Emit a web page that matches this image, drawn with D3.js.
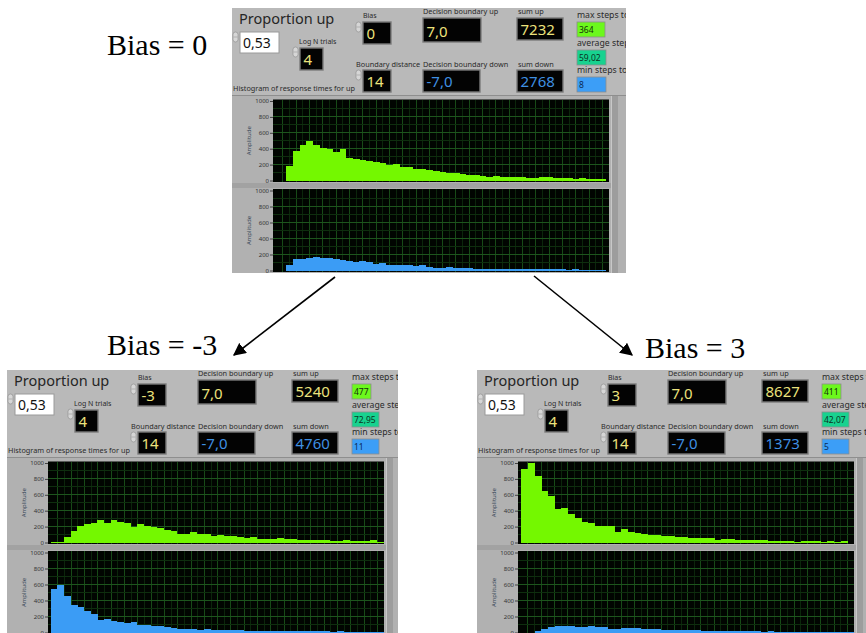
<!DOCTYPE html>
<html><head><meta charset="utf-8">
<script src="https://cdn.jsdelivr.net/npm/d3@7"></script>
<style>body{margin:0;background:#fff}svg{display:block}</style>
</head><body><svg id="c" width="866" height="633"></svg>
<script>
// ---------------- data ----------------
const binCount = 50;
const yTicks = [0, 200, 400, 600, 800, 1000];
const biasTitles = ["Bias = 0", "Bias = -3", "Bias = 3"];
const biasValues = ["0", "-3", "3"];
const proportionUp = ["0,53", "0,53", "0,53"];
const logNTrials = ["4", "4", "4"];
const boundaryDistance = ["14", "14", "14"];
const decisionUp = ["7,0", "7,0", "7,0"];
const decisionDown = ["-7,0", "-7,0", "-7,0"];
const sumUp = ["7232", "5240", "8627"];
const sumDown = ["2768", "4760", "1373"];
const maxSteps = ["364", "477", "411"];
const avgSteps = ["59,02", "72,95", "42,07"];
const minSteps = ["8", "11", "5"];

const upBias0 = [0, 0, 183, 369, 444, 494, 450, 415, 400, 355, 390, 282, 275, 260, 245, 230, 220, 200, 205, 170,
  175, 150, 140, 130, 115, 110, 100, 90, 80, 75, 65, 60, 50, 60, 50, 40, 45, 45, 35, 35,
  40, 50, 35, 30, 30, 25, 30, 20, 25, 20];
const downBias0 = [0, 0, 63, 150, 150, 160, 165, 160, 155, 150, 135, 115, 105, 125, 105, 85, 92, 75, 70, 65,
  63, 55, 75, 45, 35, 30, 45, 35, 30, 28, 25, 25, 20, 25, 20, 18, 22, 15, 20, 18,
  15, 18, 15, 15, 12, 15, 12, 10, 12, 8];
const upBiasM3 = [5, 10, 72, 145, 204, 234, 247, 281, 251, 281, 264, 247, 200, 230, 213, 191, 179, 162, 149, 111,
  111, 132, 102, 106, 85, 94, 85, 77, 64, 60, 68, 47, 47, 43, 51, 43, 38, 34, 34, 30,
  30, 26, 21, 21, 26, 17, 21, 17, 26, 8];
const downBiasM3 = [546, 597, 462, 349, 315, 265, 235, 160, 168, 143, 126, 118, 126, 97, 88, 84, 80, 67, 59, 50,
  46, 38, 34, 42, 34, 30, 28, 30, 26, 25, 22, 24, 20, 22, 18, 20, 16, 18, 15, 16,
  14, 15, 12, 13, 12, 11, 10, 12, 9, 6];
const upBias3 = [925, 1000, 842, 654, 583, 425, 437, 358, 312, 258, 242, 208, 212, 212, 137, 167, 133, 117, 104, 92,
  96, 83, 79, 71, 67, 62, 58, 58, 62, 37, 42, 50, 33, 29, 33, 29, 29, 25, 25, 21,
  21, 12, 21, 17, 17, 12, 17, 12, 17, 0];
const downBias3 = [0, 0, 21, 50, 63, 80, 80, 84, 67, 63, 76, 71, 67, 50, 50, 59, 59, 55, 46, 42,
  38, 34, 29, 34, 34, 34, 29, 21, 20, 18, 17, 15, 17, 14, 15, 13, 12, 14, 12, 11,
  12, 10, 9, 10, 8, 9, 7, 8, 6, 5];

const upSeries = [upBias0, upBiasM3, upBias3];
const downSeries = [downBias0, downBiasM3, downBias3];

// ---------------- layout ----------------
const panelLayout = [
  { x: 232, y: 8, w: 394, h: 265, xStart: 0, greenW: 28, otherW: 29 },
  { x: 7, y: 370, w: 391, h: 263, xStart: -0.4, greenW: 19, otherW: 27 },
  { x: 477, y: 370, w: 389, h: 263, xStart: -0.5, greenW: 19, otherW: 27 }
];
const titleLayout = [
  { x: 107, y: 55 }, { x: 107, y: 355 }, { x: 645, y: 358 }
];

const UI = "'Noto Sans', 'Open Sans', sans-serif";
const YELLOW = "#ece27c";
const BLUE_TXT = "#3f90e2";
const GREEN = "#74f800", BLUE = "#3b9cf5";

const svg = d3.select("#c");
const defs = svg.append("defs");
defs.append("marker").attr("id", "ah").attr("viewBox", "0 0 10 10")
  .attr("refX", 9).attr("refY", 5).attr("markerWidth", 8).attr("markerHeight", 8)
  .attr("orient", "auto").append("path").attr("d", "M0,0L10,5L0,10z").attr("fill", "#000");

function label(g, x, y, t, size, fill) {
  return g.append("text").attr("x", x).attr("y", y).text(t)
    .attr("font-family", UI).attr("font-size", size).attr("fill", fill || "#2a2a2a");
}
function spin(g, x, y) {
  g.append("rect").attr("x", x).attr("y", y).attr("width", 5).attr("height", 10).attr("rx", 2.5)
    .attr("fill", "#d6d6d6").attr("stroke", "#8a8a8a").attr("stroke-width", 0.6);
  g.append("line").attr("x1", x + 0.5).attr("x2", x + 4.5).attr("y1", y + 5).attr("y2", y + 5)
    .attr("stroke", "#8a8a8a").attr("stroke-width", 0.5);
}
function darkBox(g, x, y, w, h, t, color) {
  g.append("rect").attr("x", x).attr("y", y).attr("width", w).attr("height", h)
    .attr("fill", "#030303").attr("stroke", "#7b7b7b").attr("stroke-width", 1.4);
  g.append("text").attr("x", x + 3.5).attr("y", y + h - 5).text(t)
    .attr("font-family", UI).attr("font-size", 15).attr("fill", color);
}
function indicator(g, x, y, w, t, fill, tcol) {
  g.append("rect").attr("x", x).attr("y", y).attr("width", w).attr("height", 15)
    .attr("fill", fill).attr("stroke", "#8c8c8c").attr("stroke-width", 0.8);
  g.append("text").attr("x", x + 2).attr("y", y + 11).text(t)
    .attr("font-family", UI).attr("font-size", 8.5).attr("fill", tcol);
}

function drawPlot(g, cfg, values, yTop, yBottom, color) {
  const x = d3.scaleLinear().domain([cfg.xStart, cfg.xStart + binCount + 0.5]).range([41, 377]);
  const y = d3.scaleLinear().domain([0, 1000]).range([yBottom, yTop]);
  g.append("rect").attr("x", 41).attr("y", yTop - 1.5).attr("width", 336).attr("height", yBottom - yTop + 3)
    .attr("fill", "#010501");
  const grid = g.append("g").attr("shape-rendering", "crispEdges");
  d3.range(0, binCount + 1).forEach(j => {
    const px = x(cfg.xStart + j + 1.5);
    if (px > 41 && px < 377)
      grid.append("line").attr("x1", px).attr("x2", px).attr("y1", yTop - 1.5).attr("y2", yBottom + 1.5)
        .attr("stroke", j % 2 === 0 ? "#174a17" : "#0b260b").attr("stroke-width", 1);
  });
  d3.range(100, 1000, 100).forEach(v => {
    grid.append("line").attr("x1", 41).attr("x2", 377).attr("y1", y(v)).attr("y2", y(v))
      .attr("stroke", v % 200 === 0 ? "#1d551d" : "#0e2e0e").attr("stroke-width", 1);
  });
  g.append("g").attr("shape-rendering", "crispEdges").selectAll("rect").data(values).join("rect")
    .attr("x", (d, i) => x(i)).attr("width", (d, i) => x(i + 1) - x(i) + 0.3)
    .attr("y", d => y(Math.min(d, 1000))).attr("height", d => yBottom - y(Math.min(d, 1000)) + 0.5)
    .attr("fill", color);
  const ax = g.append("g").attr("transform", "translate(41,0)")
    .call(d3.axisLeft(y).tickValues(yTicks).tickFormat(d3.format("d")).tickSize(3).tickPadding(1));
  ax.select(".domain").remove();
  ax.selectAll("text").attr("font-family", UI).attr("font-size", 6).attr("fill", "#333");
  ax.selectAll("line").attr("stroke", "#444");
  g.append("text").attr("transform", `translate(19,${(yTop + yBottom) / 2}) rotate(-90)`)
    .attr("text-anchor", "middle").text("Amplitude")
    .attr("font-family", UI).attr("font-size", 6).attr("fill", "#3a4a5a");
}

function drawPanel(cfg, i) {
  defs.append("clipPath").attr("id", "clip" + i).append("rect").attr("width", cfg.w).attr("height", cfg.h);
  const g = svg.append("g").attr("transform", `translate(${cfg.x},${cfg.y})`).attr("clip-path", `url(#clip${i})`);
  g.append("rect").attr("width", cfg.w).attr("height", cfg.h).attr("fill", "#b9b9b9");

  // controls
  label(g, 7, 16, "Proportion up", 14.5, "#262626");
  spin(g, 1, 24);
  g.append("rect").attr("x", 8).attr("y", 24).attr("width", 39).attr("height", 21)
    .attr("fill", "#fff").attr("stroke", "#9a9a9a").attr("stroke-width", 1);
  g.append("text").attr("x", 11).attr("y", 40).text(proportionUp[i])
    .attr("font-family", UI).attr("font-size", 14).attr("fill", "#111");

  label(g, 67, 36, "Log N trials", 7);
  spin(g, 61, 39);
  darkBox(g, 68, 40, 23, 22, logNTrials[i], YELLOW);

  label(g, 131, 10, "Bias", 7);
  spin(g, 124, 14);
  darkBox(g, 131, 14, 28, 22, biasValues[i], YELLOW);

  label(g, 124, 59, "Boundary distance", 7.3);
  spin(g, 124, 62);
  darkBox(g, 131, 62, 28, 22, boundaryDistance[i], YELLOW);

  label(g, 191, 6, "Decision boundary up", 7.3);
  darkBox(g, 191, 10, 58, 24, decisionUp[i], YELLOW);
  label(g, 191, 59, "Decision boundary down", 7.3);
  darkBox(g, 191, 62, 57, 22, decisionDown[i], BLUE_TXT);

  label(g, 286, 6, "sum up", 7.3);
  darkBox(g, 285, 10, 46, 22, sumUp[i], YELLOW);
  label(g, 286, 59, "sum down", 7.3);
  darkBox(g, 285, 62, 46, 22, sumDown[i], BLUE_TXT);

  label(g, 345, 10, "max steps to", 8.7);
  indicator(g, 345, 14, cfg.greenW, maxSteps[i], "#6cf81c", "#15300a");
  label(g, 345, 38, "average steps", 8.7);
  indicator(g, 345, 42, cfg.otherW, avgSteps[i], "#18d28f", "#0a3322");
  label(g, 345, 65, "min steps to", 8.7);
  indicator(g, 345, 69, cfg.otherW, minSteps[i], "#3c9ef7", "#0b2a55");

  label(g, 1, 83, "Histogram of response times for up", 7.3);

  // plot frame
  g.append("rect").attr("x", 0).attr("y", 87).attr("width", cfg.w).attr("height", cfg.h - 87)
    .attr("fill", "#b1b1b1");
  g.append("line").attr("x1", 0).attr("x2", cfg.w).attr("y1", 87.5).attr("y2", 87.5)
    .attr("stroke", "#8e8e8e").attr("stroke-width", 1);
  g.append("rect").attr("x", 0).attr("y", 175).attr("width", 381).attr("height", 5).attr("fill", "#a2a2a2");
  g.append("rect").attr("x", 379).attr("y", 88).attr("width", 7).attr("height", cfg.h - 88).attr("fill", "#9d9d9d");
  g.append("line").attr("x1", 379.5).attr("x2", 379.5).attr("y1", 88).attr("y2", cfg.h)
    .attr("stroke", "#c8c8c8").attr("stroke-width", 1);

  drawPlot(g, cfg, upSeries[i], 93, 172.5, GREEN);
  drawPlot(g, cfg, downSeries[i], 182.5, 262.5, BLUE);
}

panelLayout.forEach(drawPanel);

// titles
biasTitles.forEach((t, i) => {
  svg.append("text").attr("x", titleLayout[i].x).attr("y", titleLayout[i].y).text(t)
    .attr("font-family", "'Liberation Serif', 'Times New Roman', serif").attr("font-size", 30).attr("fill", "#000");
});

// arrows
svg.append("line").attr("x1", 335).attr("y1", 277).attr("x2", 234).attr("y2", 355)
  .attr("stroke", "#000").attr("stroke-width", 1.6).attr("marker-end", "url(#ah)");
svg.append("line").attr("x1", 534).attr("y1", 276).attr("x2", 632).attr("y2", 355)
  .attr("stroke", "#000").attr("stroke-width", 1.6).attr("marker-end", "url(#ah)");
</script>
</body></html>
